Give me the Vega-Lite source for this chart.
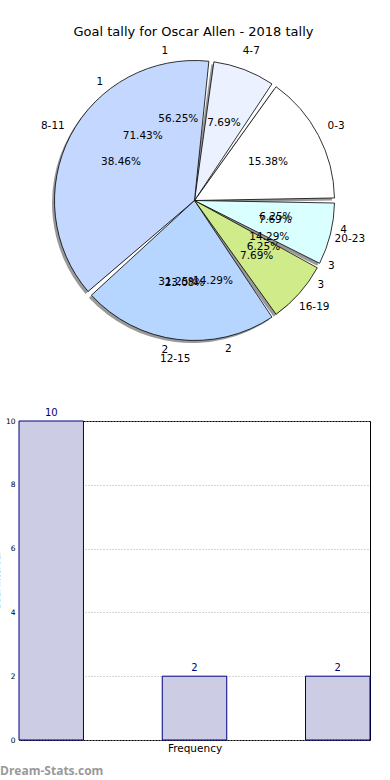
{
  "$schema": "https://vega.github.io/schema/vega-lite/v6.json",
  "padding": {"left": -9, "top": 25, "right": 0, "bottom": 0},
  "background": "white",
  "config": {"font": "DejaVu Sans", "view": {"stroke": null}},
  "title": {"text": "Goal tally for Oscar Allen - 2018 tally", "anchor": "middle", "dx": 12, "fontSize": 13, "fontWeight": "normal", "color": "black", "offset": 7},
  "spacing": 42,
  "vconcat": [
    {
      "width": 351,
      "height": 301,
      "layer": [
        {
          "data": {"values": [
            {"idx": 0, "interval": "0-3", "count": 2, "pct": "15.38%"},
            {"idx": 1, "interval": "4-7", "count": 1, "pct": "7.69%"},
            {"idx": 2, "interval": "8-11", "count": 5, "pct": "38.46%"},
            {"idx": 3, "interval": "12-15", "count": 3, "pct": "23.08%"},
            {"idx": 4, "interval": "16-19", "count": 1, "pct": "7.69%"},
            {"idx": 5, "interval": "20-23", "count": 1, "pct": "7.69%"}
          ]},
          "encoding": {
            "theta": {"field": "count", "type": "quantitative", "stack": true, "scale": {"range": [1.5708, 7.854]}},
            "order": {"field": "idx", "type": "quantitative", "sort": "descending"}
          },
          "layer": [
            {"mark": {"type": "arc", "radius": 140, "padAngle": 0.036, "fill": "#555555", "opacity": 0.6, "xOffset": -2.5, "yOffset": 2.5}},
            {"mark": {"type": "arc", "radius": 140, "padAngle": 0.036, "stroke": "black", "strokeWidth": 0.8},
             "encoding": {"color": {"field": "interval", "type": "nominal", "legend": null,
               "scale": {"domain": ["0-3", "4-7", "8-11", "12-15", "16-19", "20-23"],
                         "range": ["#ffffff", "#ebf1ff", "#c4d8ff", "#b6d5ff", "#d0eb8a", "#d9ffff"]}}}},
            {"mark": {"type": "text", "radius": 160, "fontSize": 10.5, "color": "black"}, "encoding": {"text": {"field": "interval"}}},
            {"mark": {"type": "text", "radius": 83, "fontSize": 10.5, "color": "black"}, "encoding": {"text": {"field": "pct"}}}
          ]
        },
        {
          "data": {"values": [
            {"goals": 1, "label": "1", "count": 9, "pct": "56.25%"},
            {"goals": 2, "label": "2", "count": 5, "pct": "31.25%"},
            {"goals": 3, "label": "3", "count": 1, "pct": "6.25%"},
            {"goals": 4, "label": "4", "count": 1, "pct": "6.25%"}
          ]},
          "encoding": {
            "theta": {"field": "count", "type": "quantitative", "stack": true, "scale": {"range": [1.5708, 7.854]}},
            "order": {"field": "goals", "type": "quantitative", "sort": "descending"}
          },
          "layer": [
            {"mark": {"type": "text", "radius": 152, "fontSize": 10.5, "color": "black"}, "encoding": {"text": {"field": "label"}}},
            {"mark": {"type": "text", "radius": 83, "fontSize": 10.5, "color": "black"}, "encoding": {"text": {"field": "pct"}}}
          ]
        },
        {
          "data": {"values": [
            {"goals": 1, "label": "1", "count": 5, "pct": "71.43%"},
            {"goals": 2, "label": "2", "count": 1, "pct": "14.29%"},
            {"goals": 3, "label": "3", "count": 1, "pct": "14.29%"}
          ]},
          "encoding": {
            "theta": {"field": "count", "type": "quantitative", "stack": true, "scale": {"range": [1.5708, 7.854]}},
            "order": {"field": "goals", "type": "quantitative", "sort": "descending"}
          },
          "layer": [
            {"mark": {"type": "text", "radius": 152, "fontSize": 10.5, "color": "black"}, "encoding": {"text": {"field": "label"}}},
            {"mark": {"type": "text", "radius": 83, "fontSize": 10.5, "color": "black"}, "encoding": {"text": {"field": "pct"}}}
          ]
        }
      ],
      "resolve": {"scale": {"theta": "independent"}}
    },
    {
      "width": 351,
      "height": 319,
      "view": {"stroke": "black", "strokeWidth": 1},
      "title": {"text": "Dream-Stats.com", "orient": "bottom", "anchor": "start", "frame": "group", "dx": -19, "fontSize": 12, "font": "Open Sans", "fontWeight": "bold", "color": "#999999", "offset": 12},
      "data": {"values": [
        {"bin": "1", "count": 10},
        {"bin": "2", "count": 2},
        {"bin": "3", "count": 2}
      ]},
      "encoding": {
        "x": {"field": "bin", "type": "ordinal", "scale": {"paddingInner": 0.55, "paddingOuter": 0},
              "axis": {"labels": false, "ticks": false, "domain": false, "title": "Frequency", "titleFontWeight": "normal", "titleFontSize": 10.5, "titlePadding": 3, "titleColor": "black"}},
        "y": {"field": "count", "type": "quantitative", "scale": {"domain": [0, 10]},
              "axis": {"values": [0, 2, 4, 6, 8, 10], "minExtent": 0, "grid": true, "gridDash": [1, 2], "gridColor": "#aaaaaa", "ticks": false, "domain": false, "labelFontSize": 7.5, "labelPadding": 4, "labelColor": "black", "title": "Goal Interval", "titleFontSize": 9, "titleFontWeight": "normal", "titlePadding": 4, "titleColor": "black"}}
      },
      "layer": [
        {"mark": {"type": "bar", "fill": "#ccccE4", "stroke": "#000080", "strokeWidth": 1}},
        {"mark": {"type": "text", "dy": -3, "baseline": "bottom", "color": "#000080", "fontSize": 10}, "encoding": {"text": {"field": "count"}}}
      ]
    }
  ]
}
